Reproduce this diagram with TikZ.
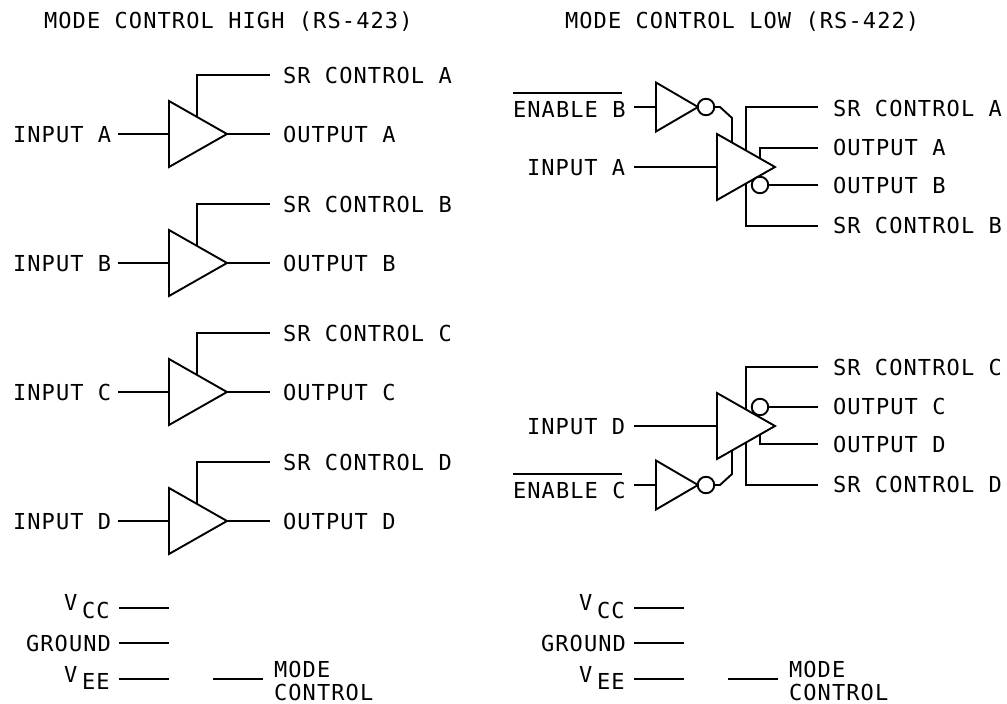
\documentclass[tikz,border=0pt]{standalone}
\usepackage{fontspec}
\newfontfamily\lblfont[LetterSpace=5]{DejaVu Sans Mono}
\tikzset{
  x=1pt,y=-1pt,
  wire/.style={line width=1.9pt,line join=miter},
  lbl/.style={font=\lblfont\fontsize{22}{22}\selectfont,anchor=base west,inner sep=0pt,outer sep=0pt},
  bub/.style={circle,draw,line width=1.9pt,fill=white,minimum size=16.5pt,inner sep=0pt},
}
\newcommand{\buff}[5]{% name, left x, centre y, half-height, length
  \coordinate (#1-in) at (#2,#3);
  \coordinate (#1-out) at ({#2+#5},#3);
  \draw[wire] (#2,{#3-#4}) -- ({#2+#5},#3) -- (#2,{#3+#4}) -- cycle;
}
\newcommand{\leftrow}[2]{% letter, wire y
  \buff{t#1}{169}{#2}{33}{58}
  \node[lbl] (in#1) at (13,{#2+8}) {INPUT #1};
  \node[lbl] (out#1) at (283,{#2+8}) {OUTPUT #1};
  \node[lbl] (sr#1) at (283,{#2-51}) {SR CONTROL #1};
  \coordinate (inw#1) at (118,#2);
  \coordinate (outw#1) at (270,#2);
  \coordinate (srw#1) at (270,{#2-59});
  \coordinate (srt#1) at (197,{#2-17});
  \draw[wire] (inw#1) -- (t#1-in);
  \draw[wire] (t#1-out) -- (outw#1);
  \draw[wire] (srt#1) -- (srt#1 |- srw#1) -- (srw#1);
}
\newcommand{\supplies}[2]{% prefix, x offset
  \begin{scope}[xshift=#2pt]
  \node[lbl] (#1v1) at (64,610) {V};
  \node[lbl] (#1cc) at (82,618) {CC};
  \node[lbl] (#1gnd) at (26,651) {GROUND};
  \node[lbl] (#1v2) at (64,682) {V};
  \node[lbl] (#1ee) at (82,689) {EE};
  \node[lbl] (#1m1) at (274,677) {MODE};
  \node[lbl] (#1m2) at (274,700) {CONTROL};
  \coordinate (#1a1) at (119,608); \coordinate (#1a2) at (169,608);
  \coordinate (#1b1) at (119,643); \coordinate (#1b2) at (169,643);
  \coordinate (#1c1) at (119,679); \coordinate (#1c2) at (169,679);
  \coordinate (#1d1) at (213,679); \coordinate (#1d2) at (263,679);
  \draw[wire] (#1a1) -- (#1a2);
  \draw[wire] (#1b1) -- (#1b2);
  \draw[wire] (#1c1) -- (#1c2);
  \draw[wire] (#1d1) -- (#1d2);
  \end{scope}
}
\begin{document}
\begin{tikzpicture}
\useasboundingbox (0,0) rectangle (1007,704);
\node[lbl] (titleL) at (44,28) {MODE CONTROL HIGH (RS-423)};
\node[lbl] (titleR) at (565,28) {MODE CONTROL LOW (RS-422)};
\leftrow{A}{134}
\leftrow{B}{263}
\leftrow{C}{392}
\leftrow{D}{521}
% upper right block
\buff{big1}{717}{167}{33}{58}
\buff{inv1}{656}{107}{24.5}{42}
\node[bub] (b1) at (706,107) {};
\node[bub] (b2) at (760,185) {};
\node[lbl] (enb) at (513,117) {ENABLE B};
\draw[wire] (513,93) -- (622,93);
\node[lbl] (ina) at (527,175) {INPUT A};
\node[lbl] (sra) at (833,116) {SR CONTROL A};
\node[lbl] (oa) at (833,155) {OUTPUT A};
\node[lbl] (ob) at (833,193) {OUTPUT B};
\node[lbl] (srb) at (833,233) {SR CONTROL B};
\coordinate (w1) at (634,107); \coordinate (w2) at (634,167);
\coordinate (w3) at (818,148); \coordinate (w4) at (818,185);
\coordinate (w5) at (818,107); \coordinate (w6) at (818,226);
\draw[wire] (w1) -- (inv1-in);
\draw[wire] (w2) -- (big1-in);
\draw[wire] (b1.east) -- (720,107) -- (732,118) -- (732,142);
\draw[wire] (746,150) -- (746,107) -- (w5);
\draw[wire] (760,158) -- (760,148) -- (w3);
\draw[wire] (b2.east) -- (w4);
\draw[wire] (746,183) -- (746,226) -- (w6);
% lower right block
\buff{big2}{717}{426}{33}{58}
\buff{inv2}{656}{485}{24.5}{42}
\node[bub] (b3) at (706,485) {};
\node[bub] (b4) at (760,407) {};
\node[lbl] (enc) at (513,498) {ENABLE C};
\draw[wire] (513,474) -- (622,474);
\node[lbl] (ind) at (527,434) {INPUT D};
\node[lbl] (src) at (833,375) {SR CONTROL C};
\node[lbl] (oc) at (833,414) {OUTPUT C};
\node[lbl] (od) at (833,452) {OUTPUT D};
\node[lbl] (srd) at (833,492) {SR CONTROL D};
\coordinate (x1) at (634,485); \coordinate (x2) at (634,426);
\coordinate (x3) at (818,444); \coordinate (x4) at (818,407);
\coordinate (x5) at (818,367); \coordinate (x6) at (818,485);
\draw[wire] (x1) -- (inv2-in);
\draw[wire] (x2) -- (big2-in);
\draw[wire] (b3.east) -- (720,485) -- (732,474) -- (732,451);
\draw[wire] (746,410) -- (746,367) -- (x5);
\draw[wire] (760,434) -- (760,444) -- (x3);
\draw[wire] (b4.east) -- (x4);
\draw[wire] (746,442) -- (746,485) -- (x6);
\supplies{l}{0}
\supplies{r}{515}
\end{tikzpicture}
\end{document}
